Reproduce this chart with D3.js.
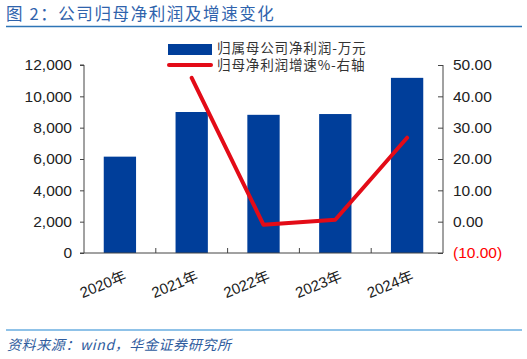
<!DOCTYPE html>
<html><head><meta charset="utf-8">
<script src="https://cdn.jsdelivr.net/npm/d3@7"></script>
<style>
body{margin:0;background:#fff;}
svg{display:block;font-family:Arial,"Liberation Sans","Noto Sans CJK SC",sans-serif;}
</style></head><body>
<svg id="c" width="527" height="359"></svg>
<script>
const categories = ["2020年","2021年","2022年","2023年","2024年"];
const profit = [6150, 9000, 8820, 8870, 11180];
const growth = [null, 45.9, -1.0, 0.6, 26.8];
const leftTicks = [0,2000,4000,6000,8000,10000,12000];
const rightTicks = [-10,0,10,20,30,40,50];
const seriesNames = ["归属母公司净利润-万元","归母净利润增速%-右轴"];
const titleText = "图 2：公司归母净利润及增速变化";
const sourceText = "资料来源：wind，华金证券研究所";

const svg = d3.select("#c");
const L = 84, R = 443, T = 65, B = 253;
const blue = "#003E9A", red = "#E30B17";
const x = d3.scaleBand().domain(categories).range([L, R]).paddingInner(0.55).paddingOuter(0.275);
const xb = d3.scaleBand().domain(categories).range([L, R]);
const yL = d3.scaleLinear().domain([0, 12000]).range([B, T]);
const yR = d3.scaleLinear().domain([-10, 50]).range([B, T]);

// title
svg.append("text").attr("x", 6).attr("y", 20).attr("fill", "#2F63AC")
  .style("font-size", "16.5px").style("letter-spacing", "1.6px")
  .style("font-family", "'Noto Sans CJK SC',sans-serif").text(titleText);
svg.append("line").attr("x1", 6).attr("x2", 522).attr("y1", 26.5).attr("y2", 26.5)
  .attr("stroke", "#2E75B6").attr("stroke-width", 1.6);

// bars
svg.append("g").selectAll("rect").data(profit).join("rect")
  .attr("x", (d, i) => x(categories[i])).attr("width", x.bandwidth())
  .attr("y", d => yL(d)).attr("height", d => B - yL(d)).attr("fill", blue);

// left axis
const gl = svg.append("g").attr("transform", `translate(${L},0)`)
  .call(d3.axisLeft(yL).tickValues(leftTicks).tickSize(4).tickPadding(8).tickFormat(d3.format(",")));
gl.selectAll("text").style("font-size", "15.5px").attr("fill", "#222");
gl.select(".domain").attr("stroke", "#444").attr("d", `M-4,${T}H0V${B}H-4`);
gl.selectAll(".tick line").attr("stroke", "#444");

// right axis
const gr = svg.append("g").attr("transform", `translate(${R},0)`)
  .call(d3.axisRight(yR).tickValues(rightTicks).tickSize(-5).tickPadding(10)
    .tickFormat(d => d < 0 ? `(${d3.format(".2f")(-d)})` : d3.format(".2f")(d)));
gr.selectAll("text").style("font-size", "15.5px").attr("fill", d => d < 0 ? "#FF0000" : "#222");
gr.select(".domain").attr("stroke", "#444").attr("d", `M0,${T}V${B}`);
gr.selectAll(".tick line").attr("stroke", "#444");

// x axis baseline with boundary ticks
svg.append("line").attr("x1", L).attr("x2", R).attr("y1", B).attr("y2", B).attr("stroke", "#444");
svg.append("g").selectAll("line").data(categories.slice(1)).join("line")
  .attr("x1", d => xb(d)).attr("x2", d => xb(d)).attr("y1", B).attr("y2", B - 5).attr("stroke", "#444");

// x labels
svg.append("g").selectAll("text").data(categories).join("text")
  .attr("transform", d => `translate(${xb(d) + xb.bandwidth() / 2 + 3},${B + 16}) rotate(-22)`)
  .attr("text-anchor", "end").attr("dy", "0.8em")
  .style("font-size", "15px").attr("fill", "#222").text(d => d);

// line
const pts = growth.map((v, i) => [categories[i], v]).filter(p => p[1] !== null);
svg.append("path").datum(pts)
  .attr("d", d3.line().x(p => xb(p[0]) + xb.bandwidth() / 2).y(p => yR(p[1])))
  .attr("fill", "none").attr("stroke", red).attr("stroke-width", 4).attr("stroke-linecap", "round")
  .attr("stroke-linejoin", "round");

// legend
svg.append("rect").attr("x", 168).attr("y", 44).attr("width", 44).attr("height", 11).attr("fill", blue);
svg.append("line").attr("x1", 169).attr("x2", 211).attr("y1", 65).attr("y2", 65)
  .attr("stroke", red).attr("stroke-width", 4).attr("stroke-linecap", "round");
svg.append("g").selectAll("text").data(seriesNames).join("text")
  .attr("x", 217).attr("y", (d, i) => 48.5 + i * 17).attr("dy", "0.35em")
  .style("font-size", "13.6px").style("letter-spacing", "0.8px")
  .style("font-family", "'Noto Sans CJK SC',sans-serif")
  .attr("fill", "#333").text(d => d);

// footer
svg.append("line").attr("x1", 6).attr("x2", 522).attr("y1", 330).attr("y2", 330)
  .attr("stroke", "#6AAEE0").attr("stroke-width", 1.6);
svg.append("text").attr("x", 7).attr("y", 350).attr("fill", "#2F5C9E")
  .style("font-size", "14px").style("font-style", "italic").style("letter-spacing", "0.6px")
  .style("font-family", "'Noto Sans CJK SC',sans-serif").text(sourceText);
</script>
</body></html>
